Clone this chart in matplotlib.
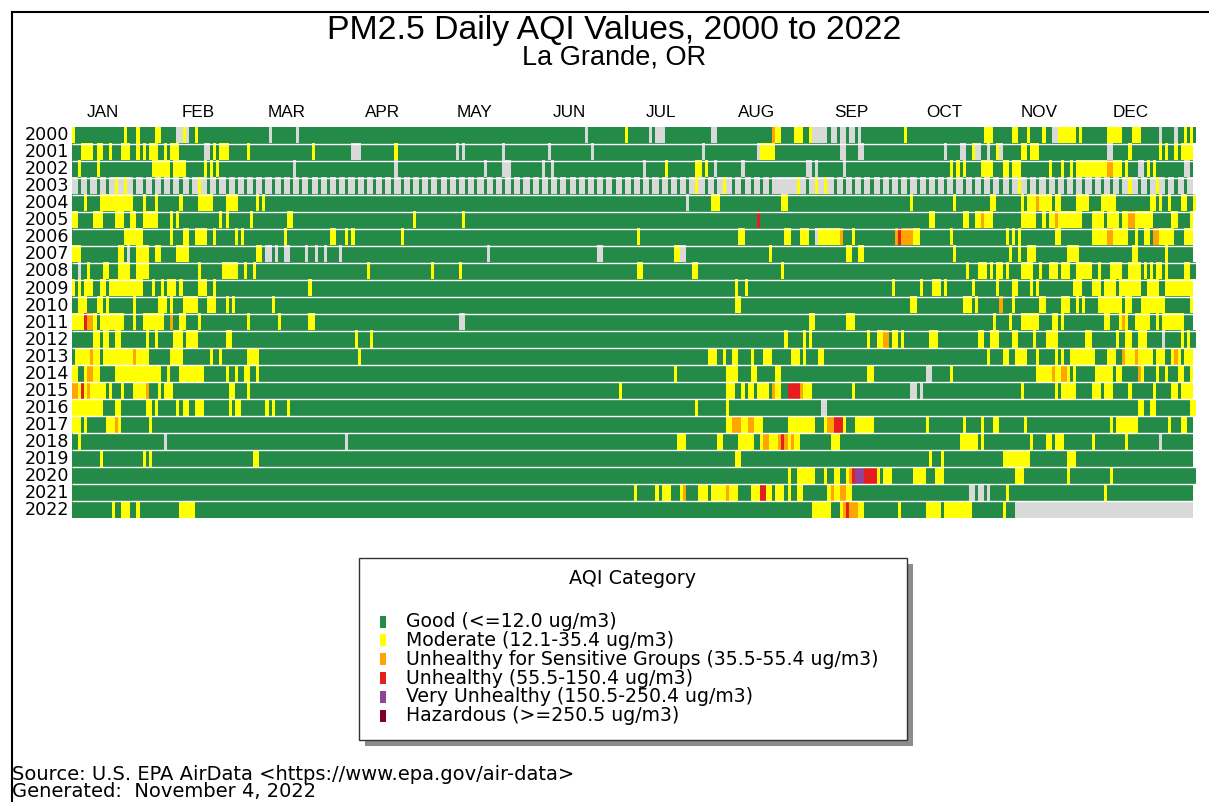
import calendar

import numpy as np
import matplotlib
matplotlib.use("Agg")
import matplotlib.pyplot as plt
from matplotlib.colors import ListedColormap, BoundaryNorm
from matplotlib.lines import Line2D
from matplotlib.patches import Rectangle

# -----------------------------
# DATA
# -----------------------------
YEARS = [2000, 2001, 2002, 2003, 2004, 2005, 2006, 2007, 2008, 2009, 2010, 2011,
         2012, 2013, 2014, 2015, 2016, 2017, 2018, 2019, 2020, 2021, 2022]

MONTHS = ["JAN", "FEB", "MAR", "APR", "MAY", "JUN",
          "JUL", "AUG", "SEP", "OCT", "NOV", "DEC"]
MONTH_START = [0, 31, 60, 91, 121, 152, 182, 213, 244, 274, 305, 335]

# G good, M moderate, U unhealthy for sensitive groups, R unhealthy,
# P very unhealthy, H hazardous, N no data
CATEGORY_CODES = ["G", "M", "U", "R", "P", "H", "N"]
CATEGORY_LABELS = [
    "Good (<=12.0 ug/m3)",
    "Moderate (12.1-35.4 ug/m3)",
    "Unhealthy for Sensitive Groups (35.5-55.4 ug/m3)",
    "Unhealthy (55.5-150.4 ug/m3)",
    "Very Unhealthy (150.5-250.4 ug/m3)",
    "Hazardous (>=250.5 ug/m3)",
]
COLORS = ["#248A48", "#FFFF00", "#FFA500", "#E41E1E", "#8E4597", "#7E0023", "#D9D9D9"]

# Day-of-year (0 based) tokens "day" or "first-last" + category code.
# Days not listed are Good; later tokens override earlier ones.
Y2000 = ("0M 17M 21M 27-28M 34-35N 36M 37N 40M 64N 73N 167N 180M 188N 190-192N 208-209N "
         "228U 229-230M 235-237M 240M 241-245N 247-248N 250-251N 253-254N 256N 271M "
         "297-299M 306-307M 311M 316M 319-320N 321-326M 328M 337-341M 345-347M 354N 359N "
         "362M 364M")
Y2001 = ("3-6M 8-9M 12M 16-18M 21M 23M 25-27M 30M 32-34M 43-44N 46M 48-50M 57M 78M 91-93N "
         "105M 125N 127N 140N 155N 169N 205N 223N 224-228M 250-251N 256-257N 284N 289-290N "
         "293M 294-295N 298N 301M 302N 309-310M 312-314M 337-338N 344M 354M 356M 359M 361-364M")
Y2002 = ("2M 8M 26-31M 33-36M 43M 45M 47M 72N 105N 134N 140-142N 153N 156N 186N 193M 203-204M "
         "206M 209N 218N 239-240N 242N 251N 286M 288M 290M 296-299M 303-304M 306-308M 318M "
         "322M 325M 327-336M 337-338U 339-341M 343M 347-348N 350M 352M 362-363N")
Y2003 = ("0-364N 2G 5G 8G 11G 14M 17M 20G 23G 26G 29G 32G 35G 38G 41M 44G 47G 50G 53G 56G "
         "59G 62G 65G 68G 71G 74G 77G 80G 83G 86G 89G 92G 95G 98G 101G 104G 107G 110G 113G "
         "116G 119G 122G 125G 128G 131G 134G 137G 140G 143G 146G 149G 152G 155G 158G 161G "
         "164G 167G 170G 173G 176G 179G 182G 185G 188G 191G 194G 197G 200G 203M 206G 209G "
         "212M 215G 218G 221G 224G 227G 236M 239G 242M 245M 248G 251G 254G 257G 260G 263G "
         "266G 269G 272G 275G 278G 281G 284G 287G 290G 293G 296G 299G 302G 305G 308M 311G "
         "314G 317G 320G 323G 326G 329G 332G 335G 338G 341G 344M 347G 350G 353M 356G 359G 362G")
Y2004 = ("4M 9-19M 23M 27M 35M 41-45M 50-53M 60M 62M 200N 208-210M 231-232M 273M 287M "
         "299-300M 309M 311-313M 314U 315-318M 320-321M 327-330M 335-339M 351-352M 354M "
         "357M 361-362M 365M")
Y2005 = ("0-1M 7-9M 14-16M 19-20M 23-27M 32M 34M 48M 50M 58M 70-71M 111M 127M 223R 279-280M "
         "290-291M 294-295M 296U 297-299M 309-313M 316M 318-319M 320U 321-328M 332-335M "
         "337-340M 342-343M 344-345U 346-351M 358-359M 364M")
Y2006 = ("17-22M 32M 36M 37M 40-43M 46M 53M 55M 69M 84-85M 89M 91M 107M 184M 217-218M "
         "232-233M 237-239M 242N 243-249M 250U 254M 268U 269R 270-273U 274-275M 286M 304M "
         "306M 308M 320-321M 332-336M 337-338U 339-343M 346M 349-350M 352-353U 354-358M 362-364M")
Y2007 = ("0-2M 15-16M 18N 21-24M 27-28M 34-37M 60-61M 63-64N 66N 69-70N 76N 79N 82N 87N 135N "
         "171-172N 196-197M 198-199N 227M 252-253M 256-257M 287M 305M 308M 311-313M 324-327M "
         "345-346M 356M")
Y2008 = ("2N 5M 10-11M 15-18M 21-24M 41M 49-53M 56M 59M 96M 117M 126M 184-185M 202-203M 231M "
         "291M 295-297M 299M 301-302M 304M 309-312M 315M 318-320M 322-324M 327-331M 334M "
         "338-341M 344-347M 349M 351M 353-354M 356M 362-363M")
Y2009 = ("0M 2M 4-6M 9-10M 12-22M 26M 29M 31-33M 35M 41-43M 46M 77M 216M 219M 267M 276M "
         "280-282M 284M 293M 301M 306-307M 312M 314M 326-328M 332-334M 336-339M 341-347M "
         "350-353M 356-364M")
Y2010 = ("2-4M 8-9M 11M 20M 28-30M 32M 36-40M 44-46M 50M 52M 65M 216-217M 273-274M 290-292M "
         "294M 302U 306M 315-316M 322-324M 327M 329M 334-341M 343-344M 348-355M 364M")
Y2011 = ("0-3M 4R 5-6U 7M 9-16M 20M 23-29M 32U 35-36M 41M 57M 67M 77-78M 126-127N 240-241M "
         "252-254M 300M 305M 309-314M 319-320M 322M 336M 337M 341M 342U 343M 346-350M 353M "
         "355-361M")
Y2012 = ("7-8M 10M 11M 14M 15M 24M 27M 33-35M 37-40M 50-51M 92M 97M 232M 238M 240M 259M "
         "262-263M 264-265U 267-268M 270M 279-281M 295-296M 299-301M 306-307M 313M 317-320M "
         "330-331M 340M 343-344M 347-349M 355N 361M 363M")
Y2013 = ("1-5M 6U 7-8M 10-19M 20U 21-24M 32-35M 45M 48M 57-60M 93M 207-209M 212M 215-216M "
         "221M 225-227M 234-236M 238M 243-244M 298M 303-304M 307-310M 314M 320M 322M "
         "325-332M 337-339M 342U 343-345M 346U 347-351M 353-355M 358M 359U 360M 362-364M")
Y2014 = ("0-1M 4M 5-6U 7-8M 14-28M 31M 35-42M 50M 53M 56-57M 60M 196M 213-216M 221-222M "
         "229-230M 259-260M 278-279N 286M 314-318M 319U 320-321M 322-323U 324M 326M 333-338M "
         "340-341M 347U 348M 353M 356M 360-361M 364M")
Y2015 = ("0-1U 2M 3R 4M 5U 6-10M 12M 16M 20-23M 24U 28M 30-32M 51-52M 57M 178M 213-215M "
         "218M 220-221M 223-226M 228U 229-230M 233-236R 237U 238-240M 254M 273-274N 276N "
         "309M 320M 322-326M 332-334M 336-338M 344M 352M 358-359M 361-364M")
Y2016 = ("0-9M 14-15M 24-25M 27M 34M 36-37M 40-42M 51M 53-54M 63M 65M 70M 203M 213M "
         "244-245N 347-348M 351-352M 364-365M")
Y2017 = ("0-2M 4M 11-13M 14U 15M 25M 213-214M 215-217U 218-219M 220-221U 222-224M 233-241M "
         "245M 246-247U 248-250R 251M 255-260M 278M 290M 296M 300-301M 310M 338M 340-346M "
         "357M 361-362M")
Y2018 = ("2M 30N 89N 197-199M 210-211M 217-221M 224M 225-226U 227-229M 230U 231R 232U 233M "
         "234U 235-236M 247-249M 289-294M 296M 312M 317-318M 320-322M 332M 343M 354N")
Y2019 = "9M 23M 25M 59-60M 216-217M 279M 283M 303-311M 324-326M"
Y2020 = ("233M 236-241M 245M 248-249M 252M 253U 254R 255-257P 258-261R 262M 264-266M "
         "274-277M 281-283M 307-309M 324M 338M")
Y2021 = ("183M 190M 192-194M 198M 199U 204-206M 208-212M 213U 214-216M 221-223M 224-225R "
         "226-227M 229-231M 233M 236-237M 246M 247U 248-249M 250-251U 252-253M 292-293N "
         "295-296N 298N 304M 336M")
Y2022 = ("13M 16-18M 21M 35-39M 241-246M 250M 251U 252R 253-255U 256-257M 269M 278-282M "
         "284-292M 303M 307-364N")

YEAR_DAYS = [Y2000, Y2001, Y2002, Y2003, Y2004, Y2005, Y2006, Y2007, Y2008, Y2009, Y2010,
             Y2011, Y2012, Y2013, Y2014, Y2015, Y2016, Y2017, Y2018, Y2019, Y2020, Y2021, Y2022]

FOOTER = ["Source: U.S. EPA AirData <https://www.epa.gov/air-data>",
          "Generated:  November 4, 2022"]


def parse_year(spec, n_days):
    row = np.full(366, np.nan)
    row[:n_days] = 0
    for tok in spec.split():
        code, rng = tok[-1], tok[:-1]
        if "-" in rng:
            a, b = (int(v) for v in rng.split("-"))
        else:
            a = b = int(rng)
        row[a:min(b, n_days - 1) + 1] = CATEGORY_CODES.index(code)
    return row


def main():
    grid = np.vstack([
        parse_year(spec, 366 if calendar.isleap(yr) else 365)
        for yr, spec in zip(YEARS, YEAR_DAYS)
    ])

    W, H = 1209, 802
    fig = plt.figure(figsize=(W / 100, H / 100), dpi=100)
    fig.patch.set_facecolor("white")

    # frame lines (top and left) like the original page border
    fig.add_artist(Line2D([12 / W, 1], [1 - 12 / H] * 2, transform=fig.transFigure,
                          color="black", lw=1.5))
    fig.add_artist(Line2D([12 / W] * 2, [0, 1 - 12 / H], transform=fig.transFigure,
                          color="black", lw=1.5))

    title_font = ["Liberation Sans", "DejaVu Sans"]
    fig.text(614 / W, 1 - 31 / H, "PM2.5 Daily AQI Values, 2000 to 2022",
             ha="center", va="center", fontsize=24.3, family=title_font)
    fig.text(614 / W, 1 - 57 / H, "La Grande, OR",
             ha="center", va="center", fontsize=19.5, family=title_font)

    # heat strip
    ax = fig.add_axes([72 / W, 1 - 518.5 / H, 1123.6 / W, 391.8 / H])
    cmap = ListedColormap(COLORS)
    cmap.set_bad("white")
    norm = BoundaryNorm(np.arange(-0.5, len(COLORS) + 0.5), cmap.N)
    ax.imshow(np.ma.masked_invalid(grid), cmap=cmap, norm=norm, aspect="auto",
              interpolation="nearest", extent=(0, 366, len(YEARS), 0))
    ax.hlines(np.arange(1, len(YEARS)), 0, 366, color="white", lw=1.0)
    ax.set_xlim(0, 366)
    ax.set_ylim(len(YEARS), 0)
    ax.axis("off")

    for i, yr in enumerate(YEARS):
        ax.text(-1.0, i + 0.5, str(yr), ha="right", va="center", fontsize=12.6,
                family="DejaVu Sans", clip_on=False)
    for m, start in zip(MONTHS, MONTH_START):
        ax.text(start + 10, -0.86, m, ha="center", va="center", fontsize=12.3,
                family=title_font, clip_on=False)

    # legend box with drop shadow
    bx, by, bw, bh = 359.5 / W, 1 - 740 / H, 547.5 / W, 182.5 / H
    fig.add_artist(Rectangle((bx + 6 / W, by - 6 / H), bw, bh, transform=fig.transFigure,
                             facecolor="#8c8c8c", edgecolor="none"))
    fig.add_artist(Rectangle((bx, by), bw, bh, transform=fig.transFigure,
                             facecolor="white", edgecolor="#333333", lw=1.0))
    fig.text(633 / W, 1 - 578 / H, "AQI Category", ha="center", va="center",
             fontsize=13.8, family="DejaVu Sans")
    for k, label in enumerate(CATEGORY_LABELS):
        yc = 621.5 + k * 18.85
        fig.add_artist(Rectangle((379.5 / W, 1 - (yc + 6) / H), 6 / W, 12 / H,
                                 transform=fig.transFigure, facecolor=COLORS[k],
                                 edgecolor="none"))
        fig.text(406 / W, 1 - yc / H, label, ha="left", va="center",
                 fontsize=13.6, family="DejaVu Sans")

    # footer: one two-line text, kept just inside the bottom edge
    fig.text(12.5 / W, 1 - 801 / H, "\n".join(FOOTER), ha="left", va="bottom",
             fontsize=14.0, family="DejaVu Sans", linespacing=0.88)

    fig.savefig("out.png", dpi=100)


if __name__ == "__main__":
    main()
